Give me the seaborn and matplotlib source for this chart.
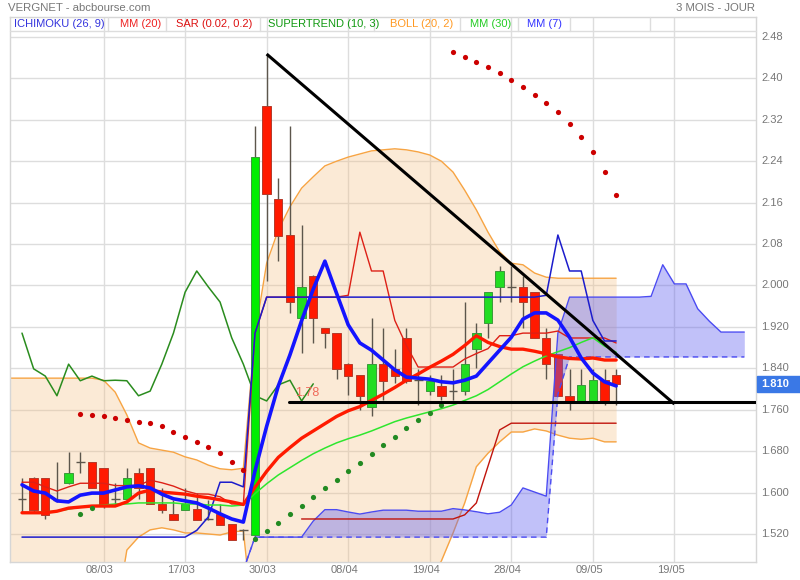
import numpy as np
import matplotlib
matplotlib.use("Agg")
import matplotlib.pyplot as plt
from matplotlib.patches import Rectangle
import seaborn as sns

sns.set_style("white")
plt.rcParams['font.family'] = ['Liberation Sans', 'DejaVu Sans']

# ---------------- data ----------------
open_ = [1.588, 1.628, 1.628, 1.586, 1.618, 1.659, 1.659, 1.648, 1.588, 1.588,
         1.638, 1.648, 1.578, 1.559, 1.566, 1.568, 1.549, 1.559, 1.539, 1.528,
         1.518, 2.347, 2.167, 2.098, 1.937, 2.018, 1.918, 1.908, 1.848, 1.827,
         1.765, 1.848, 1.839, 1.899, 1.817, 1.796, 1.806, 1.796, 1.796, 1.877,
         1.928, 1.997, 1.997, 1.997, 1.987, 1.899, 1.868, 1.787, 1.777, 1.777,
         1.817, 1.827]
high = [1.628, 1.630, 1.629, 1.659, 1.678, 1.678, 1.660, 1.648, 1.618, 1.648,
        1.648, 1.648, 1.609, 1.586, 1.609, 1.599, 1.586, 1.578, 1.539, 1.530,
        2.308, 2.447, 2.208, 2.308, 2.117, 2.020, 1.918, 1.908, 1.850, 1.827,
        1.937, 1.918, 1.877, 1.918, 1.839, 1.827, 1.827, 1.839, 1.968, 1.928,
        1.987, 2.038, 2.038, 2.018, 1.987, 1.918, 1.868, 1.839, 1.839, 1.839,
        1.839, 1.839]
low = [1.5625, 1.561, 1.549, 1.582, 1.617, 1.638, 1.608, 1.570, 1.576, 1.587,
       1.587, 1.578, 1.561, 1.547, 1.566, 1.547, 1.547, 1.537, 1.508, 1.508,
       1.515, 2.009, 2.047, 1.947, 1.870, 1.889, 1.879, 1.819, 1.788, 1.7595,
       1.748, 1.779, 1.812, 1.812, 1.769, 1.788, 1.779, 1.779, 1.788, 1.841,
       1.899, 1.968, 1.968, 1.918, 1.899, 1.819, 1.787, 1.760, 1.777, 1.777,
       1.769, 1.769]
close = [1.588, 1.566, 1.557, 1.586, 1.638, 1.659, 1.609, 1.576, 1.588, 1.628,
         1.609, 1.578, 1.566, 1.547, 1.578, 1.547, 1.549, 1.537, 1.508, 1.528,
         2.248, 2.177, 2.096, 1.968, 1.997, 1.937, 1.908, 1.839, 1.825, 1.787,
         1.848, 1.816, 1.825, 1.816, 1.817, 1.816, 1.787, 1.796, 1.848, 1.908,
         1.987, 2.028, 1.997, 1.968, 1.899, 1.848, 1.787, 1.777, 1.808, 1.817,
         1.777, 1.810]

mm7 = [1.615, 1.603, 1.599, 1.584, 1.582, 1.595, 1.599, 1.599, 1.605, 1.611,
       1.613, 1.609, 1.597, 1.588, 1.584, 1.580, 1.570, 1.559, 1.549, 1.543,
       1.642, 1.728, 1.806, 1.866, 1.932, 1.993, 2.047, 1.985, 1.924, 1.889,
       1.875, 1.856, 1.837, 1.823, 1.821, 1.819, 1.814, 1.812, 1.817, 1.825,
       1.850, 1.875, 1.900, 1.935, 1.947, 1.947, 1.933, 1.900, 1.860, 1.831,
       1.814, 1.806]
mm20 = [1.561, 1.561, 1.561, 1.564, 1.570, 1.572, 1.574, 1.574, 1.574, 1.582,
        1.599, 1.605, 1.601, 1.599, 1.597, 1.593, 1.590, 1.586, 1.582, 1.577,
        1.610, 1.641, 1.668, 1.687, 1.705, 1.719, 1.733, 1.747, 1.758, 1.766,
        1.778, 1.790, 1.803, 1.817, 1.829, 1.842, 1.854, 1.867, 1.884, 1.903,
        1.890, 1.882, 1.877, 1.877, 1.873, 1.868, 1.862, 1.859, 1.858, 1.860,
        1.856, 1.856]
mm30 = [1.561, 1.561, 1.563, 1.564, 1.568, 1.572, 1.574, 1.576, 1.578, 1.578,
        1.580, 1.580, 1.580, 1.580, 1.578, 1.578, 1.576, 1.576, 1.574, 1.576,
        1.598, 1.617, 1.634, 1.648, 1.662, 1.675, 1.686, 1.696, 1.704, 1.711,
        1.719, 1.728, 1.737, 1.744, 1.750, 1.756, 1.762, 1.769, 1.778, 1.787,
        1.799, 1.814, 1.829, 1.843, 1.854, 1.864, 1.872, 1.880, 1.890, 1.899,
        1.883, 1.871]
boll_up = [1.821, 1.821, 1.821, 1.821, 1.821, 1.821, 1.821, 1.817, 1.794, 1.750,
           1.696, 1.686, 1.682, 1.678, 1.669, 1.663, 1.653, 1.646, 1.644, 1.647,
           1.905, 2.043, 2.107, 2.152, 2.188, 2.210, 2.231, 2.240, 2.248, 2.254,
           2.260, 2.262, 2.264, 2.262, 2.258, 2.252, 2.240, 2.219, 2.184, 2.146,
           2.103, 2.065, 2.043, 2.040, 2.024, 2.016, 2.014, 2.014, 2.014, 2.014,
           2.014, 2.014]
boll_low = [1.300, 1.300, 1.300, 1.300, 1.310, 1.310, 1.320, 1.330, 1.354, 1.489,
            1.514, 1.528, 1.532, 1.528, 1.522, 1.522, 1.520, 1.518, 1.524, 1.526,
            1.315, 1.239, 1.229, 1.222, 1.222, 1.228, 1.235, 1.254, 1.268, 1.278,
            1.296, 1.318, 1.342, 1.372, 1.400, 1.432, 1.468, 1.522, 1.580, 1.650,
            1.676, 1.698, 1.717, 1.717, 1.723, 1.719, 1.711, 1.705, 1.703, 1.705,
            1.698, 1.698]
tenkan = [1.620, 1.620, 1.611, 1.603, 1.611, 1.618, 1.618, 1.618, 1.6135, 1.6135,
          1.6135, 1.624, 1.619, 1.6125, 1.6035, 1.5975, 1.597, 1.592, 1.578, 1.578,
          1.908, 1.9775, 1.9775, 1.9775, 1.9775, 1.9775, 1.9775, 1.9775, 1.981, 2.103,
          2.028, 2.028, 1.9325, 1.884, 1.8425, 1.8425, 1.8425, 1.8425, 1.858, 1.8685,
          1.878, 1.903, 1.903, 1.908, 1.908, 1.908, 1.912, 1.8986, 1.8986, 1.8986,
          1.8986, 1.889]
kijun = [1.514, 1.514, 1.514, 1.514, 1.514, 1.514, 1.514, 1.514, 1.514, 1.514,
         1.514, 1.514, 1.514, 1.514, 1.514, 1.527, 1.553, 1.620, 1.620, 1.611,
         1.908, 1.9775, 1.9775, 1.9775, 1.9775, 1.9775, 1.9775, 1.9775, 1.9775, 1.9775,
         1.9775, 1.9775, 1.9775, 1.9775, 1.9775, 1.9775, 1.9775, 1.9775, 1.9775, 1.9775,
         1.9775, 1.9775, 1.9775, 1.9775, 1.9775, 1.981, 2.0975, 2.028, 2.028, 1.9325,
         1.8928, 1.8928]
# Ichimoku cloud (shifted forward), positions 19..62
senkou_start = 19
senkou_a = [1.450, 1.514, 1.514, 1.514, 1.514, 1.514, 1.545, 1.567, 1.567, 1.5625,
            1.5585, 1.5625, 1.566, 1.566, 1.566, 1.564, 1.564, 1.564, 1.569, 1.5665,
            1.563, 1.559, 1.562, 1.576, 1.609, 1.601, 1.593, 1.908, 1.9775, 1.9775,
            1.9775, 1.9775, 1.9775, 1.9775, 1.9775, 1.979, 2.040, 2.003, 2.003, 1.955,
            1.931, 1.910, 1.910, 1.910]
senkou_b = [1.450, 1.514, 1.514, 1.514, 1.514, 1.514, 1.514, 1.514, 1.514, 1.514,
            1.514, 1.514, 1.514, 1.514, 1.514, 1.514, 1.514, 1.514, 1.514, 1.514,
            1.514, 1.514, 1.514, 1.514, 1.514, 1.514, 1.514, 1.790, 1.862, 1.862,
            1.862, 1.862, 1.862, 1.862, 1.862, 1.862, 1.862, 1.862, 1.862, 1.862,
            1.862, 1.862, 1.862, 1.862]
# SAR dots
sar_red_pos = [5, 6, 7, 8, 9, 10, 11, 12, 13, 14, 15, 16, 17, 18, 19,
               37, 38, 39, 40, 41, 42, 43, 44, 45, 46, 47, 48, 49, 50, 51]
sar_red = [1.752, 1.750, 1.748, 1.744, 1.740, 1.736, 1.734, 1.729, 1.717, 1.707, 1.698,
           1.688, 1.676, 1.659, 1.644,
           2.451, 2.441, 2.432, 2.422, 2.410, 2.397, 2.383, 2.368, 2.352, 2.335, 2.312, 2.287, 2.258,
           2.219, 2.175]
sar_green_pos = [5, 6, 20, 21, 22, 23, 24, 25, 26, 27, 28, 29, 30, 31, 32, 33, 34, 35, 36]
sar_green = [1.559, 1.570, 1.510, 1.526, 1.541, 1.559, 1.574, 1.591, 1.609, 1.624, 1.642,
             1.657, 1.674, 1.692, 1.707, 1.725, 1.740, 1.754, 1.769]
supertrend_start = 24
supertrend = [1.549, 1.549, 1.549, 1.549, 1.549, 1.549, 1.549, 1.549, 1.549, 1.549,
              1.549, 1.549, 1.549, 1.549, 1.557, 1.580, 1.651, 1.721, 1.734, 1.734,
              1.734, 1.734, 1.734, 1.734, 1.734, 1.734, 1.734, 1.734]
# trend lines drawn on the chart
diag_pos = [21, 56]
diag_val = [2.447, 1.771]
support_start = 22.9
support_val = 1.775
support_label = "1.78"
last_price = "1.810"

x_tick_pos = [7, 14, 21, 28, 35, 42, 49, 56]
x_tick_labels = ['08/03', '17/03', '30/03', '08/04', '19/04', '28/04', '09/05', '19/05']
y_ticks = [1.52, 1.60, 1.68, 1.76, 1.84, 1.92, 2.00, 2.08, 2.16, 2.24, 2.32, 2.40, 2.48]
y_tick_labels = ['1.520', '1.600', '1.680', '1.760', '1.840', '1.920', '2.000',
                 '2.08', '2.16', '2.24', '2.32', '2.40', '2.48']
legend_items = ['ICHIMOKU (26, 9)', 'MM (20)', 'SAR (0.02, 0.2)', 'SUPERTREND (10, 3)',
                'BOLL (20, 2)', 'MM (30)', 'MM (7)']
legend_colors = ['#3333dd', '#ee2222', '#dd1111', '#119911', '#ff9922', '#22cc22', '#3333ff']

# ---------------- layout ----------------
W, H = 800, 580
fig = plt.figure(figsize=(W / 100, H / 100), dpi=100)
PL, PR, PB, PT = 10, 756, 562, 17
ax = fig.add_axes([PL / W, 1 - PB / H, (PR - PL) / W, (PB - PT) / H])

def py(ypx):
    return 1.52 + (534 - ypx) * 0.08 / 41.42

def px(xpx):
    return (xpx - 22) / 11.65

ax.set_xlim(px(PL), px(PR))
ax.set_ylim(py(PB), py(PT))

idx = np.arange(len(close))
grid_c = '#dddddd'
for t in x_tick_pos:
    ax.axvline(t, color=grid_c, lw=1, zorder=0)
for t in y_ticks:
    ax.axhline(t, color=grid_c, lw=1, zorder=0)

# Bollinger (band area continues to the left frame edge)
bx = np.concatenate([[px(PL)], idx])
bu = np.concatenate([[boll_up[0]], boll_up])
bl = np.concatenate([[boll_low[0]], boll_low])
ax.fill_between(bx, bl, bu, color=(245 / 255, 188 / 255, 122 / 255), alpha=0.3, lw=0, zorder=1)
sns.lineplot(x=bx, y=bu, ax=ax, color='#f7a443', lw=1, legend=False, zorder=2)
sns.lineplot(x=bx, y=bl, ax=ax, color='#f7a443', lw=1, legend=False, zorder=2)

# chikou span (close shifted back 26)
chik = close[26:]
sns.lineplot(x=np.arange(len(chik)), y=chik, ax=ax, color='#2a8c1e', lw=1.1, legend=False, zorder=3)

# candles
wick_c = '#5c564c'
for i in idx:
    o, h, l, c = open_[i], high[i], low[i], close[i]
    ax.vlines(i, l, h, color=wick_c, lw=1, zorder=4)
    if abs(c - o) < 0.002:
        ax.hlines(o, i - 0.38, i + 0.38, color=wick_c, lw=1, zorder=4)
    else:
        up = c > o
        fc = '#22dd22' if up else '#ff1a00'
        ec = '#3a9a3a' if up else '#b53a2a'
        if i == 20:
            fc = '#00ee00'
        ax.bar(i, abs(c - o), bottom=min(o, c), width=0.72, color=fc, edgecolor=ec, lw=0.7, zorder=5)

# Ichimoku cloud
sx = np.arange(senkou_start, senkou_start + len(senkou_a))
ax.fill_between(sx, senkou_a, senkou_b, color='#6464f0', alpha=0.4, lw=0, zorder=6)
sns.lineplot(x=sx, y=senkou_a, ax=ax, color='#4b4bf2', lw=1, legend=False, zorder=6)
ax.plot(sx, senkou_b, color='#4b4bf2', lw=1, ls=(0, (4, 3)), zorder=6)

# lines
stx = np.arange(supertrend_start, supertrend_start + len(supertrend))
sns.lineplot(x=stx, y=supertrend, ax=ax, color='#c0140c', lw=1, legend=False, zorder=7)
sns.lineplot(x=idx, y=tenkan, ax=ax, color='#dd2016', lw=1, legend=False, zorder=7)
sns.lineplot(x=idx, y=kijun, ax=ax, color='#1c1ccc', lw=1.1, legend=False, zorder=7)
sns.lineplot(x=idx, y=mm30, ax=ax, color='#2ee62e', lw=1.1, legend=False, zorder=8)
sns.lineplot(x=idx, y=mm20, ax=ax, color='#ff1a00', lw=2.4, legend=False, zorder=8)
sns.lineplot(x=idx, y=mm7, ax=ax, color='#1414ff', lw=2.6, legend=False, zorder=9)

sns.scatterplot(x=sar_red_pos, y=sar_red, ax=ax, color='#cc0000', s=14, linewidth=0, legend=False, zorder=10)
sns.scatterplot(x=sar_green_pos, y=sar_green, ax=ax, color='#228a22', s=14, linewidth=0, legend=False, zorder=10)

# trend lines
ax.plot(diag_pos, diag_val, color='black', lw=2.2, zorder=11, solid_capstyle='butt')
ax.plot([support_start, px(PR)], [support_val, support_val], color='black', lw=2.2, zorder=11)
ax.text(support_start + 0.5, support_val + 0.006, support_label, color='#f06a5a', fontsize=9,
        va='bottom', ha='left', zorder=11)

for s in ax.spines.values():
    s.set_color('#d6d6d6')
    s.set_linewidth(1)
ax.set_xticks([])
ax.set_yticks([])

# axis labels
for t, lab in zip(y_ticks, y_tick_labels):
    ax.text(px(761), t, lab, color='#777777', fontsize=8, va='center', ha='left', clip_on=False)
for t, lab in zip(x_tick_pos, x_tick_labels):
    ax.text(t - 0.32, py(570), lab, color='#777777', fontsize=8, va='center', ha='center', clip_on=False)

# last price box
fig.patches.append(Rectangle((757 / W, 1 - 392 / H), 43 / W, 16 / H, transform=fig.transFigure,
                             color='#3a78e6', zorder=20))
fig.text(761 / W, 1 - 384 / H, last_price, color='white', fontsize=8, fontweight='bold',
         va='center', ha='left', zorder=21)

# header
fig.text(8 / W, 1 - 8 / H, 'VERGNET - abcbourse.com', color='#777777', fontsize=8.2, va='center', ha='left')
fig.text(755 / W, 1 - 8 / H, '3 MOIS - JOUR', color='#777777', fontsize=8.2, va='center', ha='right')

# legend row
leg_x = [14, 120, 176, 268, 390, 470, 527]
seps = [108, 166, 260, 374, 460, 518, 570, 650]
for xx, lab, col in zip(leg_x, legend_items, legend_colors):
    fig.text(xx / W, 1 - 24 / H, lab, color=col, fontsize=8, va='center', ha='left')
for sxp in seps:
    fig.add_artist(plt.Line2D([sxp / W, sxp / W], [1 - 17 / H, 1 - 31 / H], color='#dddddd', lw=1))
fig.add_artist(plt.Line2D([PL / W, PR / W], [1 - 31 / H, 1 - 31 / H], color='#dddddd', lw=1))

fig.savefig('out.png', dpi=100)
